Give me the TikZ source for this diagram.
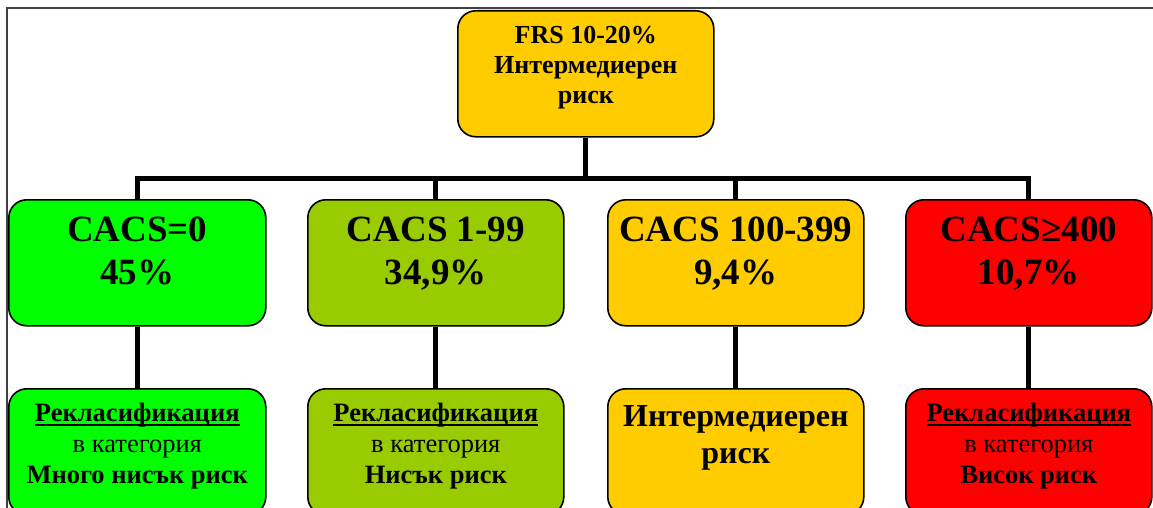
\documentclass[tikz,border=0pt]{standalone}
\usepackage{fontspec}
\setmainfont{Liberation Serif}
\definecolor{gold}{HTML}{FFCC00}
\definecolor{lime}{HTML}{00FF00}
\definecolor{olive}{HTML}{99CC00}
\definecolor{redbox}{HTML}{FF0000}
\newcommand\myul[1]{\setbox0\hbox{#1}\leavevmode\rlap{\rule[-4.5pt]{\wd0}{2pt}}\box0}
\newcommand\boxtext[3]{\parbox[c][126pt][t]{#1}{\centering\vspace*{#2}#3\par}}
\tikzset{
  x=1pt, y=-1pt,
  riskbox/.style={draw=black, line width=1.6pt, rounded corners=18pt, inner sep=0pt, anchor=north west},
  conn/.style={line width=5pt, line join=miter, draw=black},
  frame/.style={draw=black!75, line width=1.2pt}
}
\begin{document}
\begin{tikzpicture}
\useasboundingbox (0,0) rectangle (1153,508);
\clip (0,0) rectangle (1153,508);
\fill[white] (0,0) rectangle (1153,508);
\draw[frame] (7,8) rectangle (1170,530);

% top box
\node[riskbox, fill=gold] (top) at (457,10)
  {\boxtext{256pt}{15pt}{\fontsize{26}{30}\selectfont\bfseries FRS 10-20\%\\Интермедиерен\\риск}};

% second row
\node[riskbox, fill=lime] (c1) at (8,199)
  {\boxtext{257pt}{17pt}{\fontsize{37}{43}\selectfont\bfseries CACS=0\\45\%}};
\node[riskbox, fill=olive] (c2) at (307,199)
  {\boxtext{256pt}{17pt}{\fontsize{37}{43}\selectfont\bfseries CACS 1-99\\34,9\%}};
\node[riskbox, fill=gold] (c3) at (607,199)
  {\boxtext{256pt}{17pt}{\fontsize{37}{43}\selectfont\bfseries CACS 100-399\\9,4\%}};
\node[riskbox, fill=redbox] (c4) at (905,199)
  {\boxtext{246pt}{17pt}{\fontsize{37}{43}\selectfont\bfseries CACS≥400\\10,7\%}};

% third row
\node[riskbox, fill=lime] (d1) at (8,388)
  {\boxtext{257pt}{14.5pt}{\fontsize{26.5}{31}\selectfont\textbf{\myul{Рекласификация}}\\в категория\\\textbf{Много нисък риск}}};
\node[riskbox, fill=olive] (d2) at (307,388)
  {\boxtext{256pt}{14.5pt}{\fontsize{26.5}{31}\selectfont\textbf{\myul{Рекласификация}}\\в категория\\\textbf{Нисък риск}}};
\node[riskbox, fill=gold] (d3) at (607,388)
  {\boxtext{256pt}{17pt}{\fontsize{32}{37}\selectfont\bfseries Интермедиерен\\риск}};
\node[riskbox, fill=redbox] (d4) at (905,388)
  {\boxtext{246pt}{14.5pt}{\fontsize{26.5}{31}\selectfont\textbf{\myul{Рекласификация}}\\в категория\\\textbf{Висок риск}}};

% connectors
\coordinate (j) at (585,178);
\draw[conn] (top.south) -- (top.south |- j);
\draw[conn] (c1.north) |- (j);
\draw[conn] (c4.north) |- (j);
\draw[conn] (c2.north) -- (c2.north |- j);
\draw[conn] (c3.north) -- (c3.north |- j);
\draw[conn] (c1.south) -- (d1.north);
\draw[conn] (c2.south) -- (d2.north);
\draw[conn] (c3.south) -- (d3.north);
\draw[conn] (c4.south) -- (d4.north);
\end{tikzpicture}
\end{document}
